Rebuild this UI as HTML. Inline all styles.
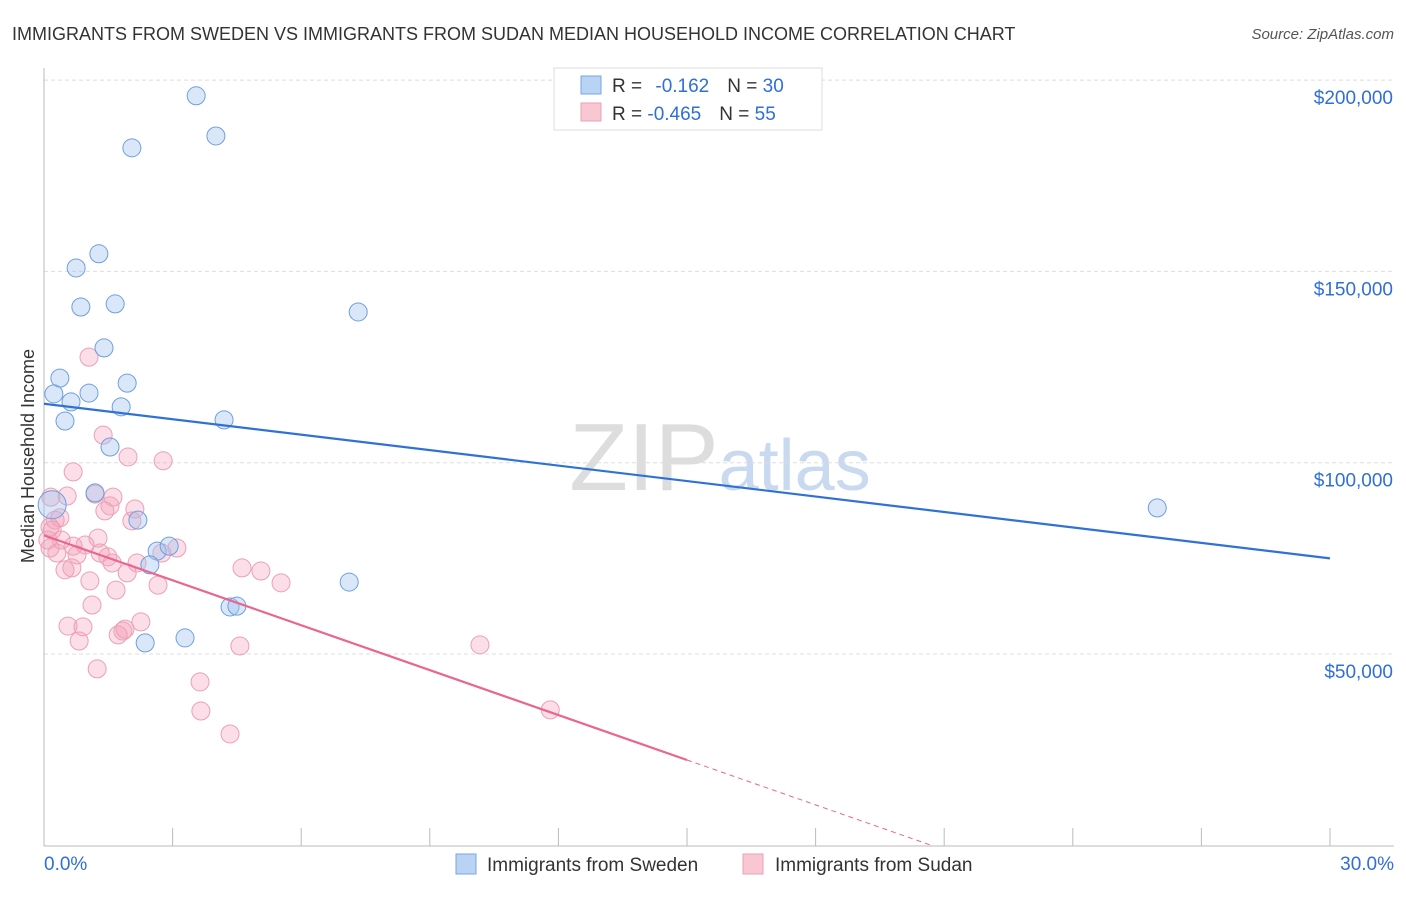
<!DOCTYPE html>
<html><head><meta charset="utf-8"><style>
body{margin:0;background:#fff;font-family:"Liberation Sans",sans-serif}
svg text{font-family:"Liberation Sans",sans-serif}
</style></head><body>
<svg id="chart" width="1406" height="892" viewBox="0 0 1406 892" xmlns="http://www.w3.org/2000/svg">
<text x="12" y="40" font-size="18" fill="#333">IMMIGRANTS FROM SWEDEN VS IMMIGRANTS FROM SUDAN MEDIAN HOUSEHOLD INCOME CORRELATION CHART</text>
<text x="1394" y="39" font-size="15" fill="#555" text-anchor="end" font-style="italic">Source: ZipAtlas.com</text>
<text x="720" y="490" font-size="96" fill="#ddd" text-anchor="middle" font-family="Liberation Serif">ZIP<tspan fill="#c9d9ef" font-family="Liberation Sans" font-size="72">atlas</tspan></text>
<g id="grid"></g>
<g id="axes"></g>
<g id="pts"></g>
<g id="trend"></g>
<text transform="translate(34,456) rotate(-90)" font-size="18" fill="#333" text-anchor="middle">Median Household Income</text>
<g>
<rect x="554" y="68" width="268" height="62" fill="#fff" stroke="#ddd"/>
<rect x="581" y="76" width="20" height="18" fill="#b9d3f5" stroke="#7aa6e3"/>
<rect x="581" y="103" width="20" height="18" fill="#f9c6d4" stroke="#eba0b6"/>
<text x="612" y="92" font-size="19" fill="#333">R = <tspan fill="#2f6fd6" dx="8">-0.162</tspan><tspan fill="#333" dx="18">N = </tspan><tspan fill="#2f6fd6">30</tspan></text>
<text x="612" y="120" font-size="19" fill="#333">R = <tspan fill="#2f6fd6">-0.465</tspan><tspan fill="#333" dx="18">N = </tspan><tspan fill="#2f6fd6">55</tspan></text>
</g>
<g>
<rect x="456" y="854" width="20" height="20" fill="#b9d3f5" stroke="#7aa6e3"/>
<text x="487" y="871" font-size="19" fill="#333">Immigrants from Sweden</text>
<rect x="743" y="854" width="20" height="20" fill="#f9c6d4" stroke="#eba0b6"/>
<text x="775" y="871" font-size="19" fill="#333">Immigrants from Sudan</text>
</g>
</svg>
<script>
const yTicks=[50000,100000,150000,200000];
const yTickLabels=["$50,000","$100,000","$150,000","$200,000"];
const xTickLabels=["0.0%","30.0%"];
const swedenX=[3.55,4.01,2.05,1.28,0.75,0.86,1.66,7.33,1.40,0.37,1.94,0.23,1.05,0.63,1.80,0.49,4.20,1.54,1.19,2.19,0.19,2.64,2.92,2.47,7.12,4.34,4.50,2.36,3.29,25.97];
const swedenY=[195900,185400,182300,154600,150900,140700,141500,139400,130000,122100,120800,118000,118200,115900,114600,110900,111200,104100,92100,85000,89000,76900,78200,73300,68800,62300,62500,52900,54200,88200];
const sudanX=[1.38,1.96,2.78,0.68,0.16,0.54,1.19,1.61,1.54,1.42,2.12,2.05,0.37,0.26,0.14,0.14,0.30,0.68,0.96,1.26,0.77,1.31,1.49,1.59,2.17,1.94,0.49,0.65,1.07,1.68,2.66,3.10,2.75,4.62,5.06,5.53,1.12,0.56,0.91,0.82,1.73,1.89,1.84,2.26,4.57,1.24,3.64,3.66,4.34,1.05,10.17,11.81,0.40,0.09,0.19];
const sudanY=[107200,101500,100500,97600,91000,91300,91800,91000,88700,87400,87900,84800,85600,85000,83200,77700,76400,78200,78500,80300,75900,76400,75400,73800,73800,71200,72000,72500,69100,66700,68000,77700,76400,72500,71700,68600,62800,57300,57100,53400,55000,56500,56000,58400,52100,46100,42700,35100,29100,127600,52400,35400,79800,79800,82400];
const swedenTrend=[115400,75000];
const sudanTrend=[81000,22300];
const NS="http://www.w3.org/2000/svg";
const X=v=>44+v*1286/30;
const Y=v=>654-(v-50000)*191.3/50000;
function mk(p,t,a){const e=document.createElementNS(NS,t);for(const k in a)e.setAttribute(k,a[k]);p.appendChild(e);return e;}
const grid=document.getElementById('grid'),axes=document.getElementById('axes'),pts=document.getElementById('pts'),trend=document.getElementById('trend');
yTicks.forEach((v,i)=>{
 const l=mk(grid,'line',{x1:44,x2:1394,y1:Y(v),y2:Y(v),stroke:'#ddd','stroke-dasharray':'4,3'});
 
 
 const t=mk(axes,'text',{x:1393,y:Y(v)+24,'font-size':19,fill:'#2f6fd6','text-anchor':'end'});
 t.textContent=yTickLabels[i];
 
 
});
const ya=mk(axes,'line',{x1:44,x2:44,y1:68,y2:846,stroke:'#bbb'});


const xa=mk(axes,'line',{x1:44,x2:1394,y1:846,y2:846,stroke:'#bbb'});


for(let i=1;i<=10;i++){const tk=mk(axes,'line',{x1:X(i*3),x2:X(i*3),y1:828,y2:846,stroke:'#bbb'});
 
 }
const xl0=mk(axes,'text',{x:44,y:870,'font-size':19,fill:'#2f6fd6'});xl0.textContent=xTickLabels[0];


const xl1=mk(axes,'text',{x:1394,y:870,'font-size':19,fill:'#2f6fd6','text-anchor':'end'});xl1.textContent=xTickLabels[1];


sudanX.forEach((x,i)=>{const c=mk(pts,'circle',{cx:X(x),cy:Y(sudanY[i]),r:9,fill:'rgba(244,160,185,0.35)',stroke:'#eba0b6','stroke-width':1});
 
 });
swedenX.forEach((x,i)=>{const c=mk(pts,'circle',{cx:X(x),cy:Y(swedenY[i]),r:i==20?14:9,fill:'rgba(160,196,240,0.4)',stroke:'#6f9fdf','stroke-width':1});
 
 });
const bl=mk(trend,'line',{x1:X(0),y1:Y(swedenTrend[0]),x2:X(30),y2:Y(swedenTrend[1]),stroke:'#2f72d6','stroke-width':2.2});


const slope=(sudanTrend[1]-sudanTrend[0])/15;
const xz=-sudanTrend[0]/slope;
const pl=mk(trend,'line',{x1:X(0),y1:Y(sudanTrend[0]),x2:X(15),y2:Y(sudanTrend[1]),stroke:'#e8668f','stroke-width':2.2});


const pd=mk(trend,'line',{x1:X(15),y1:Y(sudanTrend[1]),x2:X(xz),y2:Y(0),stroke:'#e8668f','stroke-width':1,'stroke-dasharray':'5,4'});


</script>
</body></html>
